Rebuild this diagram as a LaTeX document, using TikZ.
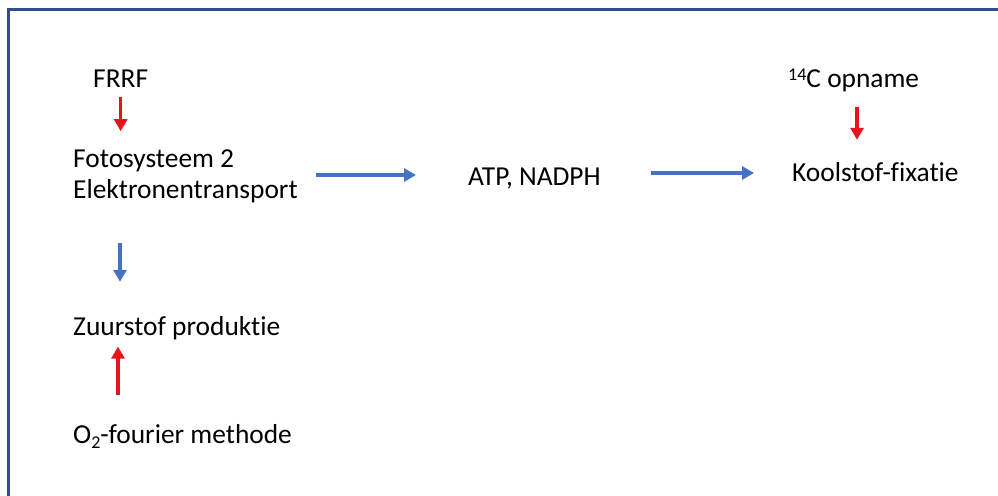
\documentclass[tikz,border=0pt]{standalone}
\usepackage{fontspec}
\setmainfont[Ligatures=NoCommon]{Carlito}
\usetikzlibrary{arrows.meta}
\definecolor{framecol}{HTML}{2F4F86}
\definecolor{redarr}{HTML}{E8141B}
\definecolor{bluearr}{HTML}{4472C4}
\tikzset{
  lbl/.style={inner sep=0pt, anchor=base west, font=\fontsize{27.4}{31}\selectfont, text=black},
  redarrow/.style={draw=redarr, line width=3.6pt, -{Triangle[length=12pt,width=13pt]}},
  bluearrow/.style={draw=bluearr, line width=3.6pt, -{Triangle[length=12pt,width=13pt]}},
}
\begin{document}
\begin{tikzpicture}[x=1pt,y=-1pt]
\useasboundingbox (0,0) rectangle (998,495);
\fill[white] (0,0) rectangle (998,495);
\draw[framecol, line width=2.6pt] (8.5,496) -- (8.5,9.5) -- (999,9.5);

\node[lbl] (frrf) at (93,88) {FRRF};
\node[lbl, align=left, anchor=west] (fs) at (73,176) {Fotosysteem 2\\Elektronentransport};
\node[lbl] (atp) at (468,185) {ATP, NADPH};
\node[lbl] (c14) at (788,88) {\raisebox{7pt}{\fontsize{18}{18}\selectfont 14}C opname};
\node[lbl] (kf) at (792,181) {Koolstof-fixatie};
\node[lbl] (zp) at (73,335) {Zuurstof produktie};
\node[lbl] (o2) at (73,443) {O\raisebox{-5pt}{\fontsize{18}{18}\selectfont 2}-fourier methode};

% FRRF -> Fotosysteem
\draw[redarrow, shorten <=9pt, shorten >=18pt] (frrf.south) -- (frrf.south |- fs.north);
% Fotosysteem -> ATP
\draw[bluearrow, shorten <=18pt, shorten >=52pt] (fs.east |- 0,175) -- (atp.west |- 0,175);
% ATP -> Koolstof
\draw[bluearrow, shorten <=50pt, shorten >=38pt] (atp.east |- 0,173) -- (kf.west |- 0,173);
% 14C -> Koolstof
\draw[redarrow, shorten <=14pt, shorten >=22pt] (c14.south -| 857,0) -- (kf.north -| 857,0);
% Fotosysteem -> Zuurstof (blue, down)
\draw[bluearrow, shorten <=40pt, shorten >=34pt] (fs.south -| 120,0) -- (zp.north -| 120,0);
% O2 -> Zuurstof (red, up)
\draw[redarrow, shorten <=29pt, shorten >=7pt] (o2.north -| 118,0) -- (zp.south -| 118,0);
\end{tikzpicture}
\end{document}
